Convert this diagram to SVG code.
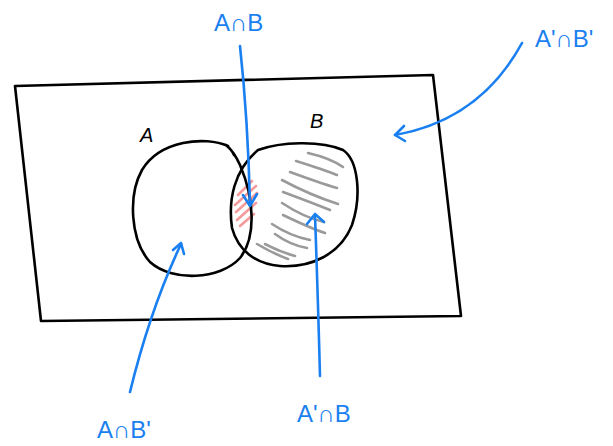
<svg xmlns="http://www.w3.org/2000/svg" width="613" height="446" viewBox="0 0 613 446">
<style>
.ink{fill:none;stroke:#000;stroke-width:2.6;stroke-linecap:round;stroke-linejoin:round}
.blue{fill:none;stroke:#1a7ff0;stroke-width:2.6;stroke-linecap:round;stroke-linejoin:round}
.gray{fill:none;stroke:#9a9a9a;stroke-width:2.6;stroke-linecap:round}
.red{fill:none;stroke:#f59a9a;stroke-width:2.6;stroke-linecap:round}
.lb{font-family:"Liberation Sans",Arial,sans-serif;font-size:24px;fill:#1a7ff0}
.lk{font-family:"Liberation Sans",Arial,sans-serif;font-size:20px;fill:#000;font-style:italic}
</style>
<rect width="613" height="446" fill="#fff"/>
<g id="universe">
<path class="ink" d="M15,86 L433,75 L461,316 L41,321 Z"/>
</g>
<g id="hatch-b">
<path class="gray" d="M308,153 Q330,158 343,167"/>
<path class="gray" d="M296,161 Q325,170 337,175"/>
<path class="gray" d="M290,172 Q320,183 337,188"/>
<path class="gray" d="M282,180 Q310,195 338,204"/>
<path class="gray" d="M283,192 Q310,202 330,210"/>
<path class="gray" d="M282,203 Q305,218 324,222"/>
<path class="gray" d="M283,215 Q310,228 325,233"/>
<path class="gray" d="M272,224 Q290,236 310,240"/>
<path class="gray" d="M275,234 Q290,245 307,248"/>
<path class="gray" d="M265,244 Q280,252 295,256"/>
<path class="gray" d="M257,244 Q272,253 288,259"/>
</g>
<g id="hatch-ab">
<path class="red" d="M238,195 L252,181"/>
<path class="red" d="M235,205 L256,186"/>
<path class="red" d="M236,212 L257,193"/>
<path class="red" d="M237,220 L256,203"/>
<path class="red" d="M240,226 L254,214"/>
</g>
<g id="A">
<path class="ink" d="M228,146 C205,136 160,140 142,170 C128,195 130,240 150,262 C172,282 220,280 240,258 C256,238 255,200 240,165 C236,156 232,150 226,145 M226,145 Q232,150 234,155"/>
<text class="lk" x="140" y="142">A</text>
</g>
<g id="B">
<path class="ink" d="M258,150 C280,142 320,140 343,150 C358,160 362,195 352,225 C340,255 310,268 280,266 C255,264 238,250 232,228 C228,200 234,170 258,150 Z"/>
<text class="lk" x="310" y="128">B</text>
</g>
<g id="connectors">
<path class="blue" d="M240,46 Q248,120 250,205"/>
<path class="blue" d="M243,195 L250,206 L257,194"/>
<path class="blue" d="M522,43 Q480,120 395,135"/>
<path class="blue" d="M404,126 L395,135 L405,141"/>
<path class="blue" d="M130,392 Q150,310 181,244"/>
<path class="blue" d="M173,250 L181,243 L184,254"/>
<path class="blue" d="M320,376 Q318,300 315,215"/>
<path class="blue" d="M307,224 L315,214 L324,222"/>
</g>
<g id="labels">
<text class="lb" x="214" y="31">A∩B</text>
<text class="lb" x="535" y="47">A'∩B'</text>
<text class="lb" x="97" y="438">A∩B'</text>
<text class="lb" x="297" y="422">A'∩B</text>
</g>
</svg>
